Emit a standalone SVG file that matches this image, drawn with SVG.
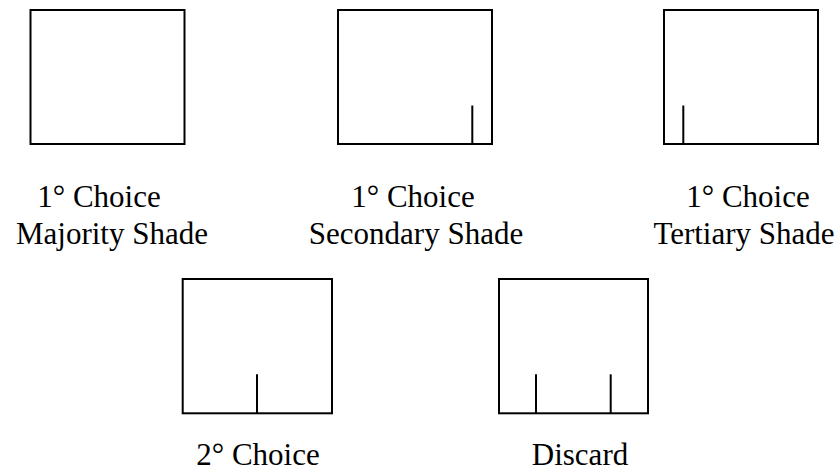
<svg xmlns="http://www.w3.org/2000/svg" width="838" height="468" viewBox="0 0 838 468">
<style>
.box{fill:none;stroke:#000;stroke-width:2}
.tick{stroke:#000;stroke-width:2}
.lbl{font-family:"Liberation Serif","Times New Roman",serif;font-size:31px;fill:#000;text-anchor:middle}
</style>
<rect width="838" height="468" fill="#fff"/>
<g id="majority">
<rect class="box" x="30.5" y="10" width="154" height="134"/>
<text class="lbl" x="99" y="207">1° Choice</text>
<text class="lbl" x="112" y="244">Majority Shade</text>
</g>
<g id="secondary">
<rect class="box" x="338" y="10" width="154" height="134"/>
<line class="tick" x1="472.3" y1="105.5" x2="472.3" y2="144"/>
<text class="lbl" x="413" y="207">1° Choice</text>
<text class="lbl" x="416" y="244">Secondary Shade</text>
</g>
<g id="tertiary">
<rect class="box" x="664" y="10" width="154" height="134"/>
<line class="tick" x1="683.3" y1="105.5" x2="683.3" y2="144"/>
<text class="lbl" x="748" y="207">1° Choice</text>
<text class="lbl" x="744" y="244">Tertiary Shade</text>
</g>
<g id="second-choice">
<rect class="box" x="182.7" y="279" width="149.3" height="134.3"/>
<line class="tick" x1="257" y1="374.3" x2="257" y2="413.3"/>
<text class="lbl" x="258" y="465">2° Choice</text>
</g>
<g id="discard">
<rect class="box" x="499" y="279" width="149" height="134.3"/>
<line class="tick" x1="536" y1="374.3" x2="536" y2="413.3"/>
<line class="tick" x1="610.7" y1="374.3" x2="610.7" y2="413.3"/>
<text class="lbl" x="580" y="465">Discard</text>
</g>
<g id="connectors"/>
</svg>
